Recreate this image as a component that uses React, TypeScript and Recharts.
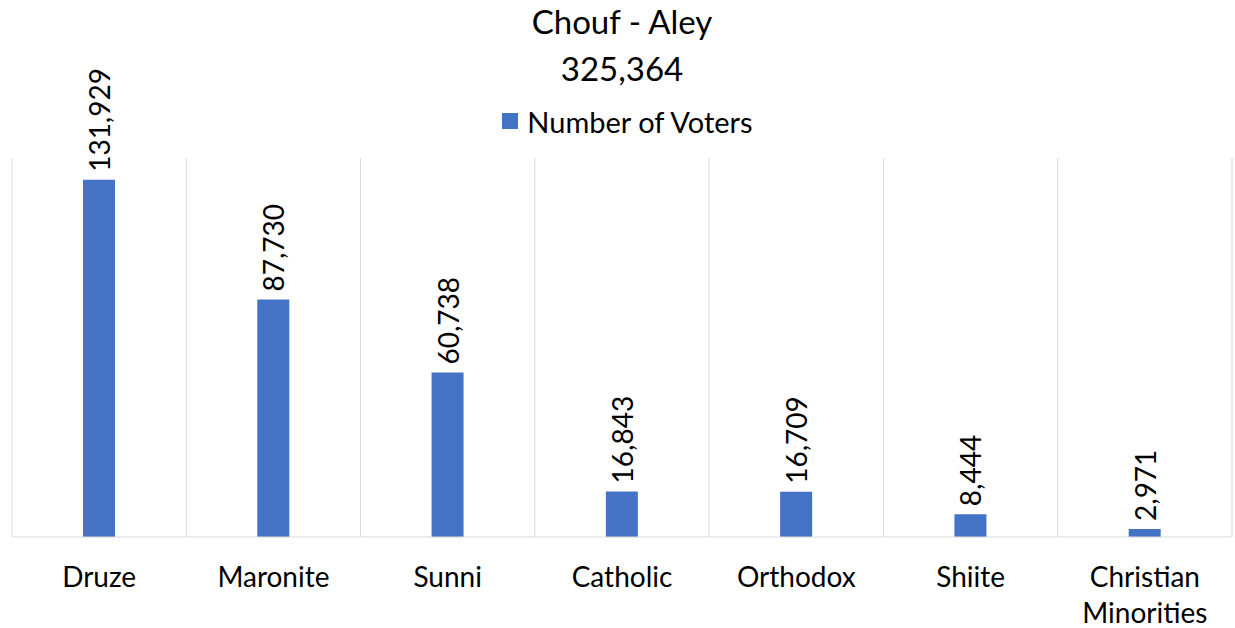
import { BarChart, Bar, XAxis, YAxis, CartesianGrid, Legend, LabelList } from 'recharts'

const categories = ['Druze', 'Maronite', 'Sunni', 'Catholic', 'Orthodox', 'Shiite', 'Christian Minorities']
const voters = [131929, 87730, 60738, 16843, 16709, 8444, 2971]
const chartTitle = 'Chouf - Aley'
const chartTotal = '325,364'
const seriesName = 'Number of Voters'

const FONT = 'Lato, "Open Sans", sans-serif'
const BLUE = '#4472C4'
const GRID = '#d9d9d9'

const data = categories.map((c, i) => ({ name: c, voters: voters[i] }))

const fmt = (v: number) => v.toLocaleString('en-US')

function CategoryTick(props: any) {
  const { x, y, payload } = props
  const words = String(payload.value).split(' ')
  const lines = words.length > 1 ? words : [payload.value]
  return (
    <g transform={`translate(${x},${y})`}>
      {lines.map((l: string, i: number) => (
        <text key={i} x={0} y={42 + i * 36} textAnchor="middle" fill="#000" fontSize={28} fontFamily={FONT}>
          {l}
        </text>
      ))}
    </g>
  )
}

function RotatedLabel(props: any) {
  const { x, y, width, value } = props
  const cx = x + width / 2
  const cy = y - 8
  return (
    <text
      x={cx}
      y={cy}
      transform={`rotate(-90, ${cx}, ${cy})`}
      textAnchor="start"
      dominantBaseline="central"
      fontSize={28}
      fontFamily={FONT}
      fill="#000"
    >
      {fmt(value)}
    </text>
  )
}

function LegendContent() {
  return (
    <div style={{ display: 'flex', justifyContent: 'center', alignItems: 'center', fontFamily: FONT, fontSize: 29, height: 28, paddingLeft: 20 }}>
      <span style={{ width: 16, height: 16, background: BLUE, display: 'inline-block', marginRight: 9 }} />
      <span>{seriesName}</span>
    </div>
  )
}

export default function App() {
  const W = 1235
  const H = 628
  return (
    <div style={{ position: 'absolute', left: 0, top: 0, width: W, height: H, background: '#fff' }}>
      <div
        style={{
          position: 'absolute',
          left: 12,
          width: 1220,
          top: -2,
          textAlign: 'center',
          fontFamily: FONT,
          fontSize: 33,
          lineHeight: '47px',
          color: '#000',
        }}
      >
        <div>{chartTitle}</div>
        <div>{chartTotal}</div>
      </div>
      <BarChart width={W} height={H} data={data} margin={{ top: 130, right: 3, left: 12, bottom: 0 }}>
        <CartesianGrid
          horizontal={false}
          stroke={GRID}
          verticalCoordinatesGenerator={({ offset }: any) =>
            Array.from({ length: categories.length + 1 }, (_, i) => offset.left + (i * offset.width) / categories.length)
          }
        />
        <XAxis
          dataKey="name"
          height={91}
          interval={0}
          axisLine={{ stroke: GRID }}
          tickLine={false}
          tick={<CategoryTick />}
        />
        <YAxis hide domain={[0, 140000]} />
        <Legend
          verticalAlign="top"
          content={<LegendContent />}
          wrapperStyle={{ top: 107, left: 0, width: W }}
        />
        <Bar dataKey="voters" name={seriesName} fill={BLUE} barSize={32} isAnimationActive={false}>
          <LabelList dataKey="voters" content={<RotatedLabel />} />
        </Bar>
      </BarChart>
    </div>
  )
}
